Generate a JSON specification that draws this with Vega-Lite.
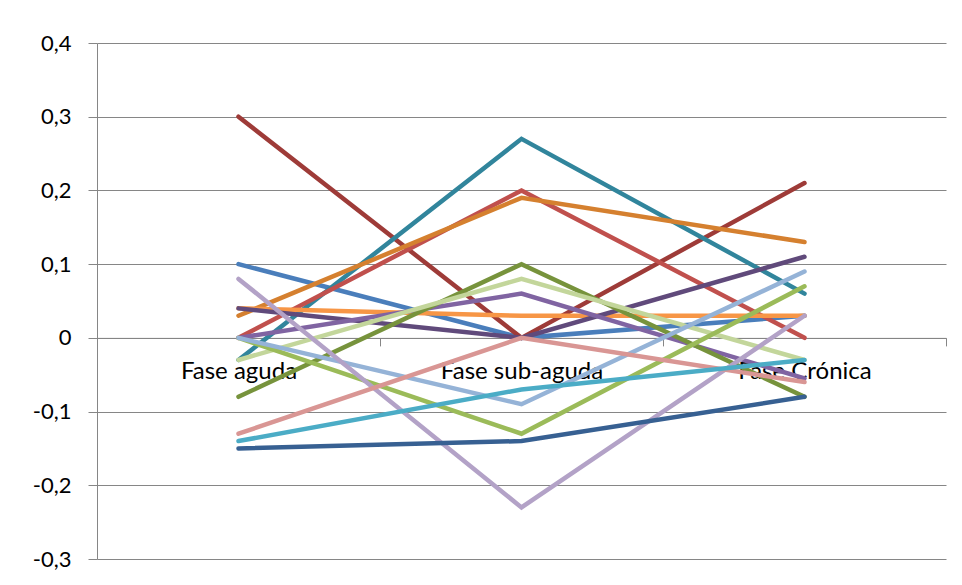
{
  "$schema": "https://vega.github.io/schema/vega-lite/v6.json",
  "width": 849,
  "height": 516,
  "autosize": {"type": "none"},
  "padding": {"left": 97, "top": 43, "right": 16, "bottom": 26},
  "background": "white",
  "config": {"view": {"stroke": null}, "font": "Lato"},
  "data": {"values": [
    {"s": "S01", "k": 1, "fase": "Fase aguda", "v": 0.10}, {"s": "S01", "k": 2, "fase": "Fase sub-aguda", "v": 0.00}, {"s": "S01", "k": 3, "fase": "Fase Crónica", "v": 0.03},
    {"s": "S02", "k": 1, "fase": "Fase aguda", "v": 0.30}, {"s": "S02", "k": 2, "fase": "Fase sub-aguda", "v": 0.00}, {"s": "S02", "k": 3, "fase": "Fase Crónica", "v": 0.21},
    {"s": "S03", "k": 1, "fase": "Fase aguda", "v": -0.03}, {"s": "S03", "k": 2, "fase": "Fase sub-aguda", "v": 0.27}, {"s": "S03", "k": 3, "fase": "Fase Crónica", "v": 0.06},
    {"s": "S04", "k": 1, "fase": "Fase aguda", "v": 0.00}, {"s": "S04", "k": 2, "fase": "Fase sub-aguda", "v": 0.20}, {"s": "S04", "k": 3, "fase": "Fase Crónica", "v": 0.00},
    {"s": "S05", "k": 1, "fase": "Fase aguda", "v": 0.03}, {"s": "S05", "k": 2, "fase": "Fase sub-aguda", "v": 0.19}, {"s": "S05", "k": 3, "fase": "Fase Crónica", "v": 0.13},
    {"s": "S06", "k": 1, "fase": "Fase aguda", "v": 0.04}, {"s": "S06", "k": 2, "fase": "Fase sub-aguda", "v": 0.03}, {"s": "S06", "k": 3, "fase": "Fase Crónica", "v": 0.03},
    {"s": "S07", "k": 1, "fase": "Fase aguda", "v": 0.04}, {"s": "S07", "k": 2, "fase": "Fase sub-aguda", "v": 0.00}, {"s": "S07", "k": 3, "fase": "Fase Crónica", "v": 0.11},
    {"s": "S08", "k": 1, "fase": "Fase aguda", "v": 0.00}, {"s": "S08", "k": 2, "fase": "Fase sub-aguda", "v": 0.06}, {"s": "S08", "k": 3, "fase": "Fase Crónica", "v": -0.055},
    {"s": "S09", "k": 1, "fase": "Fase aguda", "v": -0.08}, {"s": "S09", "k": 2, "fase": "Fase sub-aguda", "v": 0.10}, {"s": "S09", "k": 3, "fase": "Fase Crónica", "v": -0.08},
    {"s": "S10", "k": 1, "fase": "Fase aguda", "v": -0.03}, {"s": "S10", "k": 2, "fase": "Fase sub-aguda", "v": 0.08}, {"s": "S10", "k": 3, "fase": "Fase Crónica", "v": -0.03},
    {"s": "S11", "k": 1, "fase": "Fase aguda", "v": 0.00}, {"s": "S11", "k": 2, "fase": "Fase sub-aguda", "v": -0.13}, {"s": "S11", "k": 3, "fase": "Fase Crónica", "v": 0.07},
    {"s": "S12", "k": 1, "fase": "Fase aguda", "v": 0.00}, {"s": "S12", "k": 2, "fase": "Fase sub-aguda", "v": -0.09}, {"s": "S12", "k": 3, "fase": "Fase Crónica", "v": 0.09},
    {"s": "S13", "k": 1, "fase": "Fase aguda", "v": 0.08}, {"s": "S13", "k": 2, "fase": "Fase sub-aguda", "v": -0.23}, {"s": "S13", "k": 3, "fase": "Fase Crónica", "v": 0.03},
    {"s": "S14", "k": 1, "fase": "Fase aguda", "v": -0.13}, {"s": "S14", "k": 2, "fase": "Fase sub-aguda", "v": 0.00}, {"s": "S14", "k": 3, "fase": "Fase Crónica", "v": -0.06},
    {"s": "S15", "k": 1, "fase": "Fase aguda", "v": -0.14}, {"s": "S15", "k": 2, "fase": "Fase sub-aguda", "v": -0.07}, {"s": "S15", "k": 3, "fase": "Fase Crónica", "v": -0.03},
    {"s": "S16", "k": 1, "fase": "Fase aguda", "v": -0.15}, {"s": "S16", "k": 2, "fase": "Fase sub-aguda", "v": -0.14}, {"s": "S16", "k": 3, "fase": "Fase Crónica", "v": -0.08}
  ]},
  "mark": {"type": "line", "strokeWidth": 4.5, "strokeCap": "round", "strokeJoin": "miter"},
  "encoding": {
    "x": {
      "field": "fase", "type": "nominal", "sort": null, "bandPosition": 0.5,
      "scale": {"type": "band", "domain": ["Fase aguda", "Fase sub-aguda", "Fase Crónica"], "paddingInner": 0, "paddingOuter": 0},
      "axis": {
        "title": null, "orient": "bottom", "offset": -221.1, "labelAngle": 0,
        "tickBand": "extent", "ticks": true, "tickSize": 8, "tickColor": "#868686", "tickWidth": 1,
        "domainColor": "#868686", "domainWidth": 1,
        "labelFont": "Lato", "labelFontSize": 24, "labelColor": "#000000", "labelPadding": 14,
        "grid": false
      }
    },
    "y": {
      "field": "v", "type": "quantitative",
      "scale": {"domain": [-0.3, 0.4], "nice": false, "zero": false},
      "axis": {
        "title": null, "values": [-0.3, -0.2, -0.1, 0, 0.1, 0.2, 0.3, 0.4],
        "labelExpr": "datum.value == 0 ? '0' : replace(replace(format(datum.value, '.1f'), '.', ','), '\u2212', '-')",
        "grid": true, "gridColor": "#868686", "gridWidth": 1,
        "domainColor": "#868686", "domainWidth": 1,
        "tickColor": "#868686", "tickSize": 9, "tickWidth": 1,
        "labelFont": "Lato", "labelFontSize": 22, "labelColor": "#000000", "labelPadding": 17
      }
    },
    "color": {
      "field": "s", "type": "nominal", "legend": null,
      "scale": {
        "domain": ["S01","S02","S03","S04","S05","S06","S07","S08","S09","S10","S11","S12","S13","S14","S15","S16"],
        "range": ["#4A7EBB","#9E3B38","#31859C","#C0504D","#D5802F","#F79646","#604A7B","#8064A2","#77933C","#C3D69B","#9BBB59","#95B3D7","#B3A2C7","#D99694","#4BACC6","#376092"]
      }
    },
    "order": {"field": "k", "type": "quantitative"}
  }
}
